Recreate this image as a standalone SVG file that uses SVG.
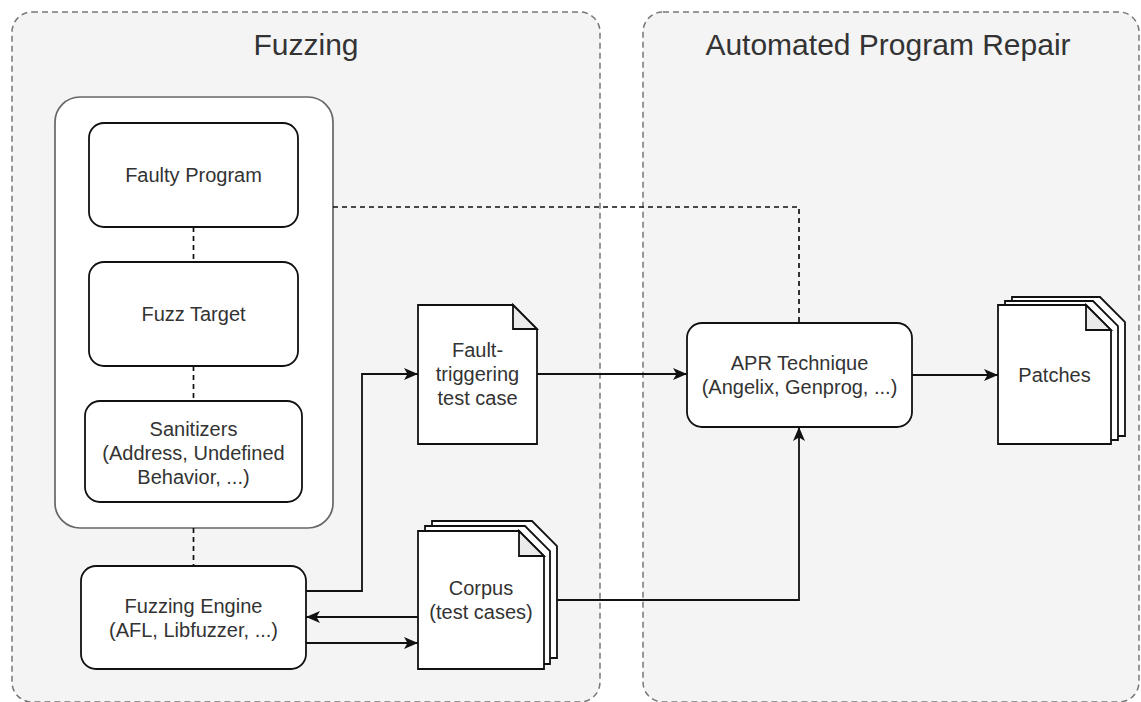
<svg xmlns="http://www.w3.org/2000/svg" width="1141" height="702" viewBox="0 0 1141 702">
<style>
  .container { fill: #f4f4f4; stroke: #777; stroke-width: 1.5; stroke-dasharray: 6 4; }
  .title { font-family: "Liberation Sans", Arial, sans-serif; font-size: 30px; fill: #333; text-anchor: middle; }
  .inner { fill: #fff; stroke: #666; stroke-width: 1.7; }
  .node { fill: #fff; stroke: #111; stroke-width: 1.8; }
  .fold { fill: #ebebeb; stroke: #111; stroke-width: 1.8; stroke-linejoin: miter; }
  .label { font-family: "Liberation Sans", Arial, sans-serif; font-size: 20px; fill: #333; text-anchor: middle; }
  .edge { fill: none; stroke: #111; stroke-width: 1.8; }
  .dashed { fill: none; stroke: #111; stroke-width: 1.7; stroke-dasharray: 5 4; }
</style>
<defs>
  <marker id="arrow" viewBox="0 0 14 12" refX="14" refY="6" markerWidth="14" markerHeight="12" markerUnits="userSpaceOnUse" orient="auto">
    <path d="M0,0 L14,6 L0,12 L3.5,6 Z" fill="#111"/>
  </marker>
</defs>
<rect width="1141" height="702" fill="#ffffff"/>

<g id="fuzzing-group">
  <rect class="container" x="12" y="12" width="588" height="690" rx="20"/>
  <text class="title" x="306" y="55">Fuzzing</text>
</g>
<g id="apr-group">
  <rect class="container" x="643" y="12" width="496" height="690" rx="20"/>
  <text class="title" x="888" y="55">Automated Program Repair</text>
</g>

<g id="target-container">
  <rect class="inner" x="55" y="97" width="278" height="431" rx="25"/>
</g>

<g id="faulty-program">
  <rect class="node" x="89" y="123" width="209" height="104" rx="15"/>
  <text class="label" x="193.5" y="182">Faulty Program</text>
</g>
<g id="fuzz-target">
  <rect class="node" x="89" y="262" width="209" height="104" rx="15"/>
  <text class="label" x="193.5" y="321">Fuzz Target</text>
</g>
<g id="sanitizers">
  <rect class="node" x="85" y="401" width="217" height="101" rx="15"/>
  <text class="label" x="193.5" y="436">Sanitizers</text>
  <text class="label" x="193.5" y="460">(Address, Undefined</text>
  <text class="label" x="193.5" y="484">Behavior, ...)</text>
</g>
<g id="fuzzing-engine">
  <rect class="node" x="81" y="566" width="225" height="103" rx="15"/>
  <text class="label" x="193.5" y="613">Fuzzing Engine</text>
  <text class="label" x="193.5" y="637">(AFL, Libfuzzer, ...)</text>
</g>

<g id="fault-test-case">
  <path class="node" d="M418,305 H513 L537,329 V444 H418 Z"/>
  <path class="fold" d="M513,305 V329 H537 Z"/>
  <text class="label" x="477.5" y="357">Fault-</text>
  <text class="label" x="477.5" y="381">triggering</text>
  <text class="label" x="477.5" y="405">test case</text>
</g>

<g id="corpus">
  <path class="node" d="M432,521 H532 L557,546 V658 H432 Z"/>
  <path class="node" d="M425,526 H525 L550,551 V664 H425 Z"/>
  <path class="node" d="M418,531 H519 L544,556 V669 H418 Z"/>
  <path class="fold" d="M519,531 V556 H544 Z"/>
  <text class="label" x="481" y="595">Corpus</text>
  <text class="label" x="481" y="619">(test cases)</text>
</g>

<g id="apr-technique">
  <rect class="node" x="687" y="323" width="225" height="104" rx="15"/>
  <text class="label" x="799.5" y="370">APR Technique</text>
  <text class="label" x="799.5" y="394">(Angelix, Genprog, ...)</text>
</g>

<g id="patches">
  <path class="node" d="M1012,297 H1100 L1125,322 V436 H1012 Z"/>
  <path class="node" d="M1005,301 H1093 L1118,326 V440 H1005 Z"/>
  <path class="node" d="M998,305 H1086 L1111,330 V444 H998 Z"/>
  <path class="fold" d="M1086,305 V330 H1111 Z"/>
  <text class="label" x="1054.5" y="382">Patches</text>
</g>

<g id="connectors">
  <path class="dashed" d="M193.5,227 V262"/>
  <path class="dashed" d="M193.5,366 V401"/>
  <path class="dashed" d="M193.5,528 V566"/>
  <path class="dashed" d="M333,207 H799 V323"/>
  <path class="edge" d="M306,591 H362 V374 H418" marker-end="url(#arrow)"/>
  <path class="edge" d="M537,374 H687" marker-end="url(#arrow)"/>
  <path class="edge" d="M912,375 H998" marker-end="url(#arrow)"/>
  <path class="edge" d="M557,600 H799 V427" marker-end="url(#arrow)"/>
  <path class="edge" d="M418,617 H306" marker-end="url(#arrow)"/>
  <path class="edge" d="M306,643 H418" marker-end="url(#arrow)"/>
</g>
</svg>
